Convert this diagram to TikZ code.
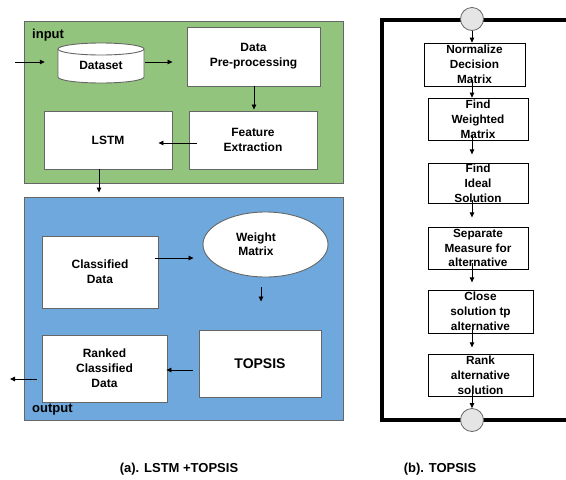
\documentclass[tikz,border=0pt]{standalone}
\usepackage{fontspec}
\setmainfont{Liberation Sans}
\usetikzlibrary{arrows.meta,shapes.geometric,calc}
\definecolor{ingreen}{HTML}{93C47D}
\definecolor{outblue}{HTML}{6FA8DC}
\definecolor{edgegray}{HTML}{666666}
\tikzset{
  panel/.style={draw=edgegray, line width=0.9pt, inner sep=0pt},
  wbox/.style={draw=edgegray, fill=white, line width=0.9pt, align=center, inner sep=0pt,
    font=\bfseries\fontsize{12}{15}\selectfont},
  sbox/.style={draw=black, fill=white, line width=0.7pt, align=center, inner sep=0pt,
    font=\bfseries\fontsize{11.8}{14.8}\selectfont},
  arr/.style={draw=black, line width=0.8pt, -{Triangle[length=5pt,width=4.5pt]}},
  term/.style={circle, draw=edgegray, fill=gray!20, line width=0.8pt, minimum size=23pt, inner sep=0pt},
  tag/.style={font=\bfseries\fontsize{13}{15}\selectfont, anchor=west, inner sep=0pt},
  captext/.style={font=\bfseries\fontsize{13}{15}\selectfont, inner sep=0pt}
}
\begin{document}
\begin{tikzpicture}[x=1pt,y=-1pt]
\clip (0,0) rectangle (566,480);
\fill[white] (0,0) rectangle (566,480);

% ---------- (a) LSTM + TOPSIS ----------
\node[panel, fill=ingreen, minimum width=319pt, minimum height=162pt] (inbox) at (183.5,102) {};
\node[panel, fill=outblue, minimum width=319pt, minimum height=223pt] (outbox) at (183.5,308.5) {};
\node[tag] (inlab) at (32,35) {input};
\node[tag] (outlab) at (32,410) {output};

% dataset cylinder
\fill[white] (58,49) -- (58,77) arc[start angle=180, end angle=360, x radius=43pt, y radius=6pt] -- (144,49) -- cycle;
\draw[edgegray, line width=0.9pt] (58,49) -- (58,77) arc[start angle=180, end angle=360, x radius=43pt, y radius=6pt] -- (144,49);
\draw[edgegray, fill=white, line width=0.9pt] (101,49) ellipse[x radius=43pt, y radius=6pt];
\node[font=\bfseries\fontsize{12}{15}\selectfont, inner sep=0pt, minimum width=86pt, minimum height=40pt] (ds) at (101,65) {Dataset};

\node[wbox, minimum width=133pt, minimum height=59pt] (pre) at (253.5,56.5) {Data\\Pre-processing};
\node[wbox, minimum width=128pt, minimum height=58pt] (fe) at (253,140) {Feature\\Extraction};
\node[wbox, minimum width=128pt, minimum height=58pt] (lstm) at (108,140) {LSTM};
\node[wbox, minimum width=116pt, minimum height=72pt] (cd) at (100,272) {Classified\\Data};
\node[ellipse, draw=edgegray, fill=white, line width=0.9pt, minimum width=125pt, minimum height=65pt] (wm) at (265.5,244.5) {};
\node[font=\bfseries\fontsize{12}{14}\selectfont, align=center, inner sep=0pt] (wmt) at (256,244) {Weight\\Matrix};
\node[wbox, minimum width=122pt, minimum height=67pt, font=\bfseries\fontsize{14}{16}\selectfont] (tops) at (260,363.5) {TOPSIS};
\node[wbox, minimum width=125pt, minimum height=67pt] (rcd) at (104.5,368.5) {Ranked\\Classified\\Data};

\coordinate (inA) at (15,62);
\coordinate (outA) at (10,379);
\draw[arr] (inA) -- ($(ds.west)+(-13,-3)$);
\draw[arr] ($(ds.east)+(1,-3)$) -- ($(pre.west)+(-14,5.5)$);
\draw[arr] ($(pre.south)+(0.5,0)$) -- ($(fe.north)+(1,-1)$);
\draw[arr] ($(fe.west)+(8,3)$) -- ($(lstm.east)+(-14,3)$);
\draw[arr] ($(lstm.south)+(-9,0)$) -- ($(outbox.north)+(-84.5,-4)$);
\draw[arr] ($(cd.east)+(-3,-14)$) -- ($(wm.west)+(-9,13.5)$);
\draw[arr] ($(wm.south)+(-4.5,10)$) -- ($(tops.north)+(1,-28)$);
\draw[arr] ($(tops.west)+(-6,6.5)$) -- ($(rcd.east)+(-1,1.5)$);
\draw[arr] ($(rcd.west)+(-5,10.5)$) -- (outA);

% ---------- (b) TOPSIS ----------
\draw[black, line width=3.5pt] (382,20) rectangle (600,420);
\node[sbox, minimum width=101pt, minimum height=43pt] (n1) at (474.5,64.5) {Normalize\\Decision\\Matrix};
\node[sbox, minimum width=100pt, minimum height=42pt] (n2) at (478,119) {Find\\Weighted\\Matrix};
\node[sbox, minimum width=100pt, minimum height=40pt] (n3) at (478,183) {Find\\Ideal\\Solution};
\node[sbox, minimum width=100pt, minimum height=42pt] (n4) at (478,248) {Separate\\Measure for\\alternative};
\node[sbox, minimum width=105pt, minimum height=43pt] (n5) at (480.5,311.5) {Close\\solution tp\\alternative};
\node[sbox, minimum width=105pt, minimum height=42pt] (n6) at (480.5,375) {Rank\\alternative\\solution};

\draw[arr] ($(n1.south)+(-2.5,-6)$) -- ($(n2.north)+(-6,0)$);
\draw[arr] ($(n2.south)+(-6,-5)$) -- ($(n2.south)+(-6,14)$);
\draw[arr] ($(n3.south)+(-6,-3)$) -- ($(n3.south)+(-6,14)$);
\draw[arr] ($(n4.south)+(-6,-6)$) -- ($(n4.south)+(-6,13)$);
\draw[arr] ($(n5.south)+(-8.5,-5)$) -- ($(n5.south)+(-8.5,14)$);
\node[term] (c1) at (472,19) {};
\node[term] (c2) at (472,420) {};
\draw[arr] (c1.south) -- ($(n1.north)+(-2.5,0)$);
\draw[arr] ($(n6.south)+(-8.5,-4)$) -- (c2.north);

% captions
\node[captext] (capa) at (179,469) {(a). LSTM +TOPSIS};
\node[captext] (capb) at (440,469) {(b). TOPSIS};
\end{tikzpicture}
\end{document}
